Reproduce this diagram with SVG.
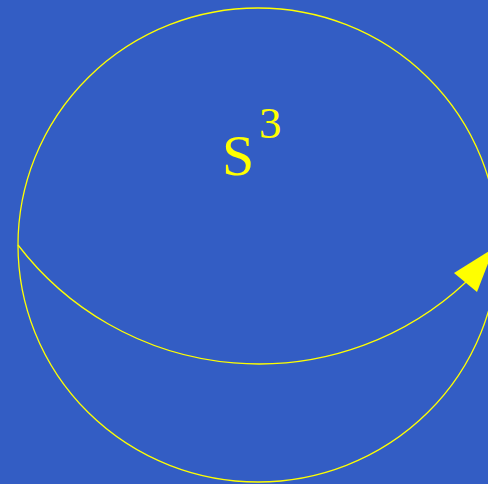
<svg xmlns="http://www.w3.org/2000/svg" width="488" height="484" viewBox="0 0 488 484">
<style>
.ln{fill:none;stroke:#ffff00;stroke-width:1.3}
.lbl{fill:#ffff00;font-family:"Liberation Serif","Times New Roman",serif}
</style>
<rect width="488" height="484" fill="#335dc4"/>
<g id="sphere">
<ellipse class="ln" cx="258" cy="245" rx="240" ry="237"/>
</g>
<g id="label">
<text class="lbl" x="222" y="175" font-size="58">S</text>
<text class="lbl" x="259" y="138" font-size="45">3</text>
</g>
<g id="connectors">
<path class="ln" d="M18,245 A303,303 0 0,0 466,282"/>
<polygon points="494,248 454,273 477,292" fill="#ffff00"/>
</g>
</svg>
